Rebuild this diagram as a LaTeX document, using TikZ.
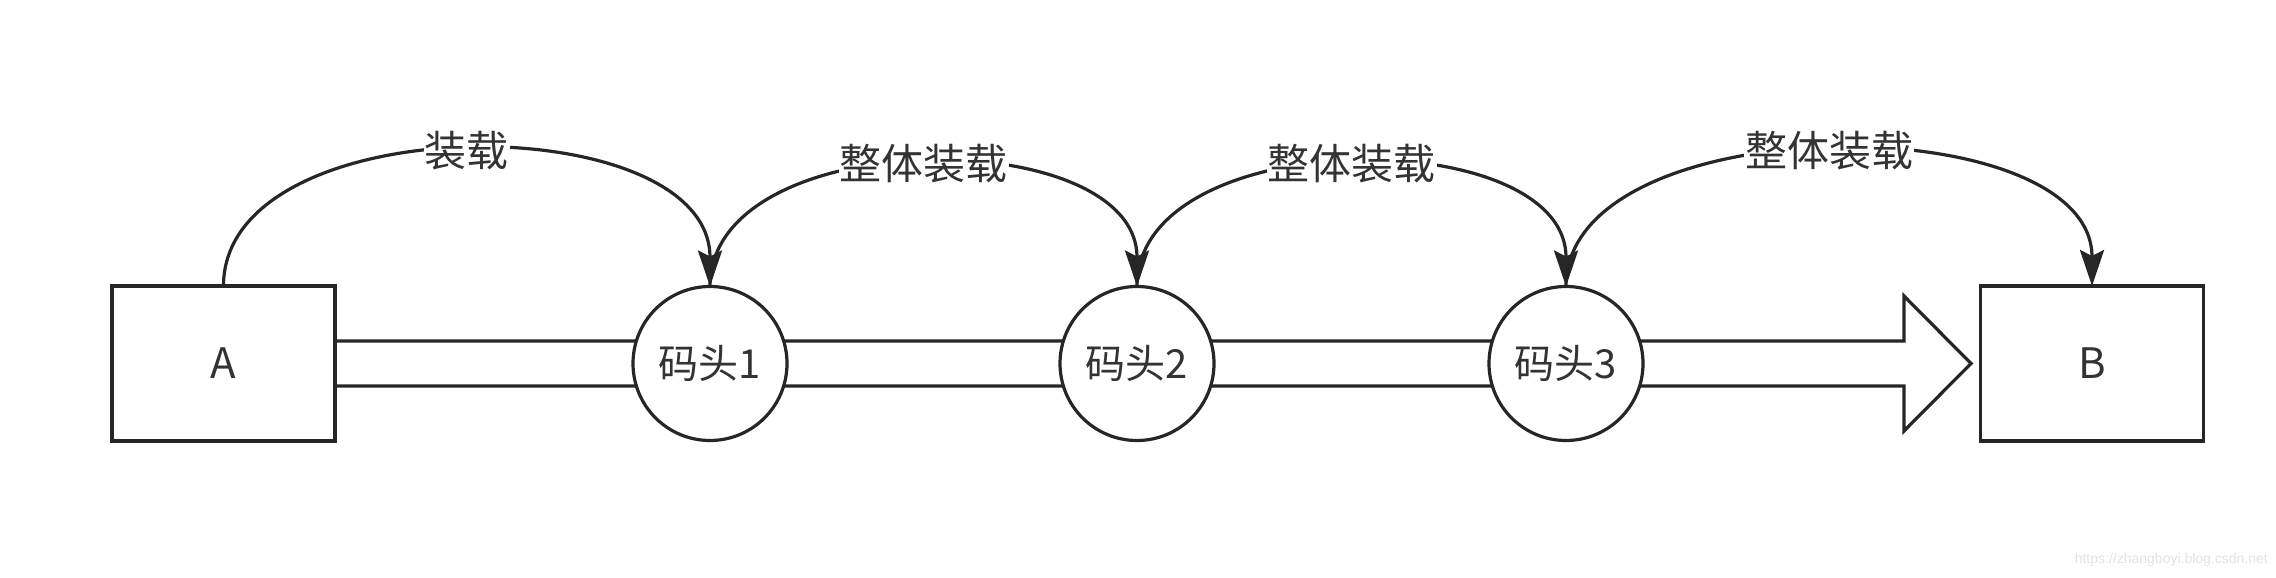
\documentclass[tikz,border=0pt]{standalone}
\usepackage{fontspec}
\setmainfont{Noto Sans CJK SC}
\newfontfamily\wmfont{Liberation Sans}
\usetikzlibrary{arrows.meta,calc,backgrounds}
\definecolor{linec}{HTML}{262626}
\definecolor{textc}{HTML}{333333}
\definecolor{wmc}{HTML}{E2E2E2}
\begin{document}
\begin{tikzpicture}[x=1pt,y=-1pt,
  box/.style={draw=linec, line width=3.2pt, fill=white, minimum width=223pt, minimum height=155pt,
    inner sep=0pt, outer sep=0pt, text=textc, font=\fontsize{42}{50}\selectfont},
  dock/.style={circle, draw=linec, line width=3.2pt, fill=white, minimum size=154pt,
    inner sep=0pt, outer sep=0pt, text=textc, font=\fontsize{40}{48}\selectfont},
  hop/.style={draw=linec, line width=3.2pt, -{Stealth[length=36pt,width=24pt,inset=6pt]}},
  lbl/.style={fill=white, inner sep=1pt, text=textc, font=\fontsize{42}{50}\selectfont},
  bigarrow/.style={draw=linec, line width=3.2pt, fill=white, line join=miter}
]
\useasboundingbox (0,0) rectangle (2276,578);

\node[box] (A) at (223.5,363.5) {A};
\node[box] (B) at (2092,363.5) {B};
\node[dock] (p1) at (710,363.5) {码头1};
\node[dock] (p2) at (1137,363.5) {码头2};
\node[dock] (p3) at (1566,363.5) {码头3};

\begin{scope}[on background layer]
\draw[bigarrow] ($(A.east)+(0,-22.5)$) -- ($(A.east)+(1569,-22.5)$) -- ($(A.east)+(1569,-67.5)$)
  -- ($(A.east)+(1636,0)$) -- ($(A.east)+(1569,67.5)$) -- ($(A.east)+(1569,22.5)$) -- ($(A.east)+(0,22.5)$);
\end{scope}

\draw[hop] (A.north) .. controls +(0,-181) and +(0,-181) .. node[lbl,midway] {装载} (p1.north);
\draw[hop] (p1.north) .. controls +(0,-164) and +(0,-164) .. node[lbl,midway] {整体装载} (p2.north);
\draw[hop] (p2.north) .. controls +(0,-164) and +(0,-164) .. node[lbl,midway] {整体装载} (p3.north);
\draw[hop] (p3.north) .. controls +(0,-181) and +(0,-181) .. node[lbl,midway] {整体装载} (B.north);

\node[anchor=east, text=wmc, font=\wmfont\fontsize{14}{16}\selectfont, inner sep=0pt] (wm) at (2268,560) {https://zhangboyi.blog.csdn.net};
\end{tikzpicture}
\end{document}
